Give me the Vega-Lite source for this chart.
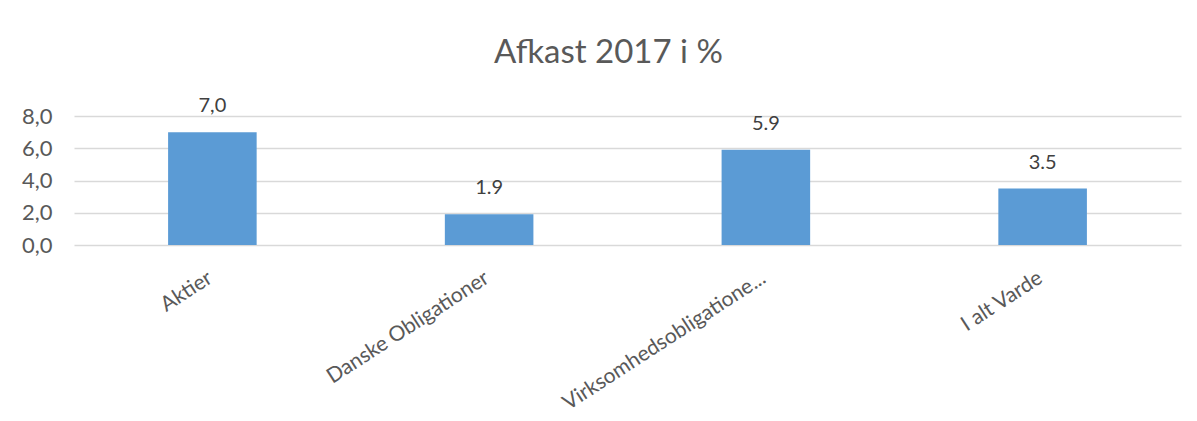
{
  "$schema": "https://vega.github.io/schema/vega-lite/v6.json",
  "autosize": "none",
  "width": 1107,
  "height": 129,
  "padding": {"left": 74, "top": 116, "right": 16, "bottom": 176},
  "background": "white",
  "title": {
    "text": "Afkast 2017 i %",
    "font": "Lato",
    "fontSize": 33,
    "fontWeight": "normal",
    "color": "#595959",
    "frame": "group",
    "anchor": "middle",
    "dx": -19,
    "offset": 26
  },
  "config": {
    "view": {"stroke": null},
    "font": "Lato"
  },
  "data": {
    "values": [
      {"kategori": "Aktier", "afkast": 7.0, "label": "7,0"},
      {"kategori": "Danske Obligationer", "afkast": 1.9, "label": "1.9"},
      {"kategori": "Virksomhedsobligatione...", "afkast": 5.9, "label": "5.9"},
      {"kategori": "I alt Varde", "afkast": 3.5, "label": "3.5"}
    ]
  },
  "encoding": {
    "x": {
      "field": "kategori",
      "type": "nominal",
      "sort": null,
      "scale": {"paddingInner": 0.68, "paddingOuter": 0.34},
      "axis": {
        "title": null,
        "labelAngle": -33,
        "labelAlign": "right",
        "labelBaseline": "middle",
        "labelPadding": 31,
        "labelOffset": -2,
        "labelFontSize": 21,
        "labelColor": "#595959",
        "ticks": false,
        "domain": false,
        "labelLimit": 400
      }
    },
    "y": {
      "field": "afkast",
      "type": "quantitative",
      "scale": {"domain": [0, 8]},
      "axis": {
        "title": null,
        "values": [0, 2, 4, 6, 8],
        "labelExpr": "replace(format(datum.value, '.1f'), '.', ',')",
        "labelFontSize": 22,
        "labelColor": "#595959",
        "labelPadding": 22,
        "ticks": false,
        "domain": false,
        "gridColor": "#D9D9D9",
        "gridWidth": 1.5
      }
    }
  },
  "layer": [
    {"mark": {"type": "bar", "color": "#5B9BD5"}},
    {
      "mark": {"type": "text", "baseline": "bottom", "dy": -16, "fontSize": 20, "color": "#404040"},
      "encoding": {"text": {"field": "label"}}
    }
  ]
}
